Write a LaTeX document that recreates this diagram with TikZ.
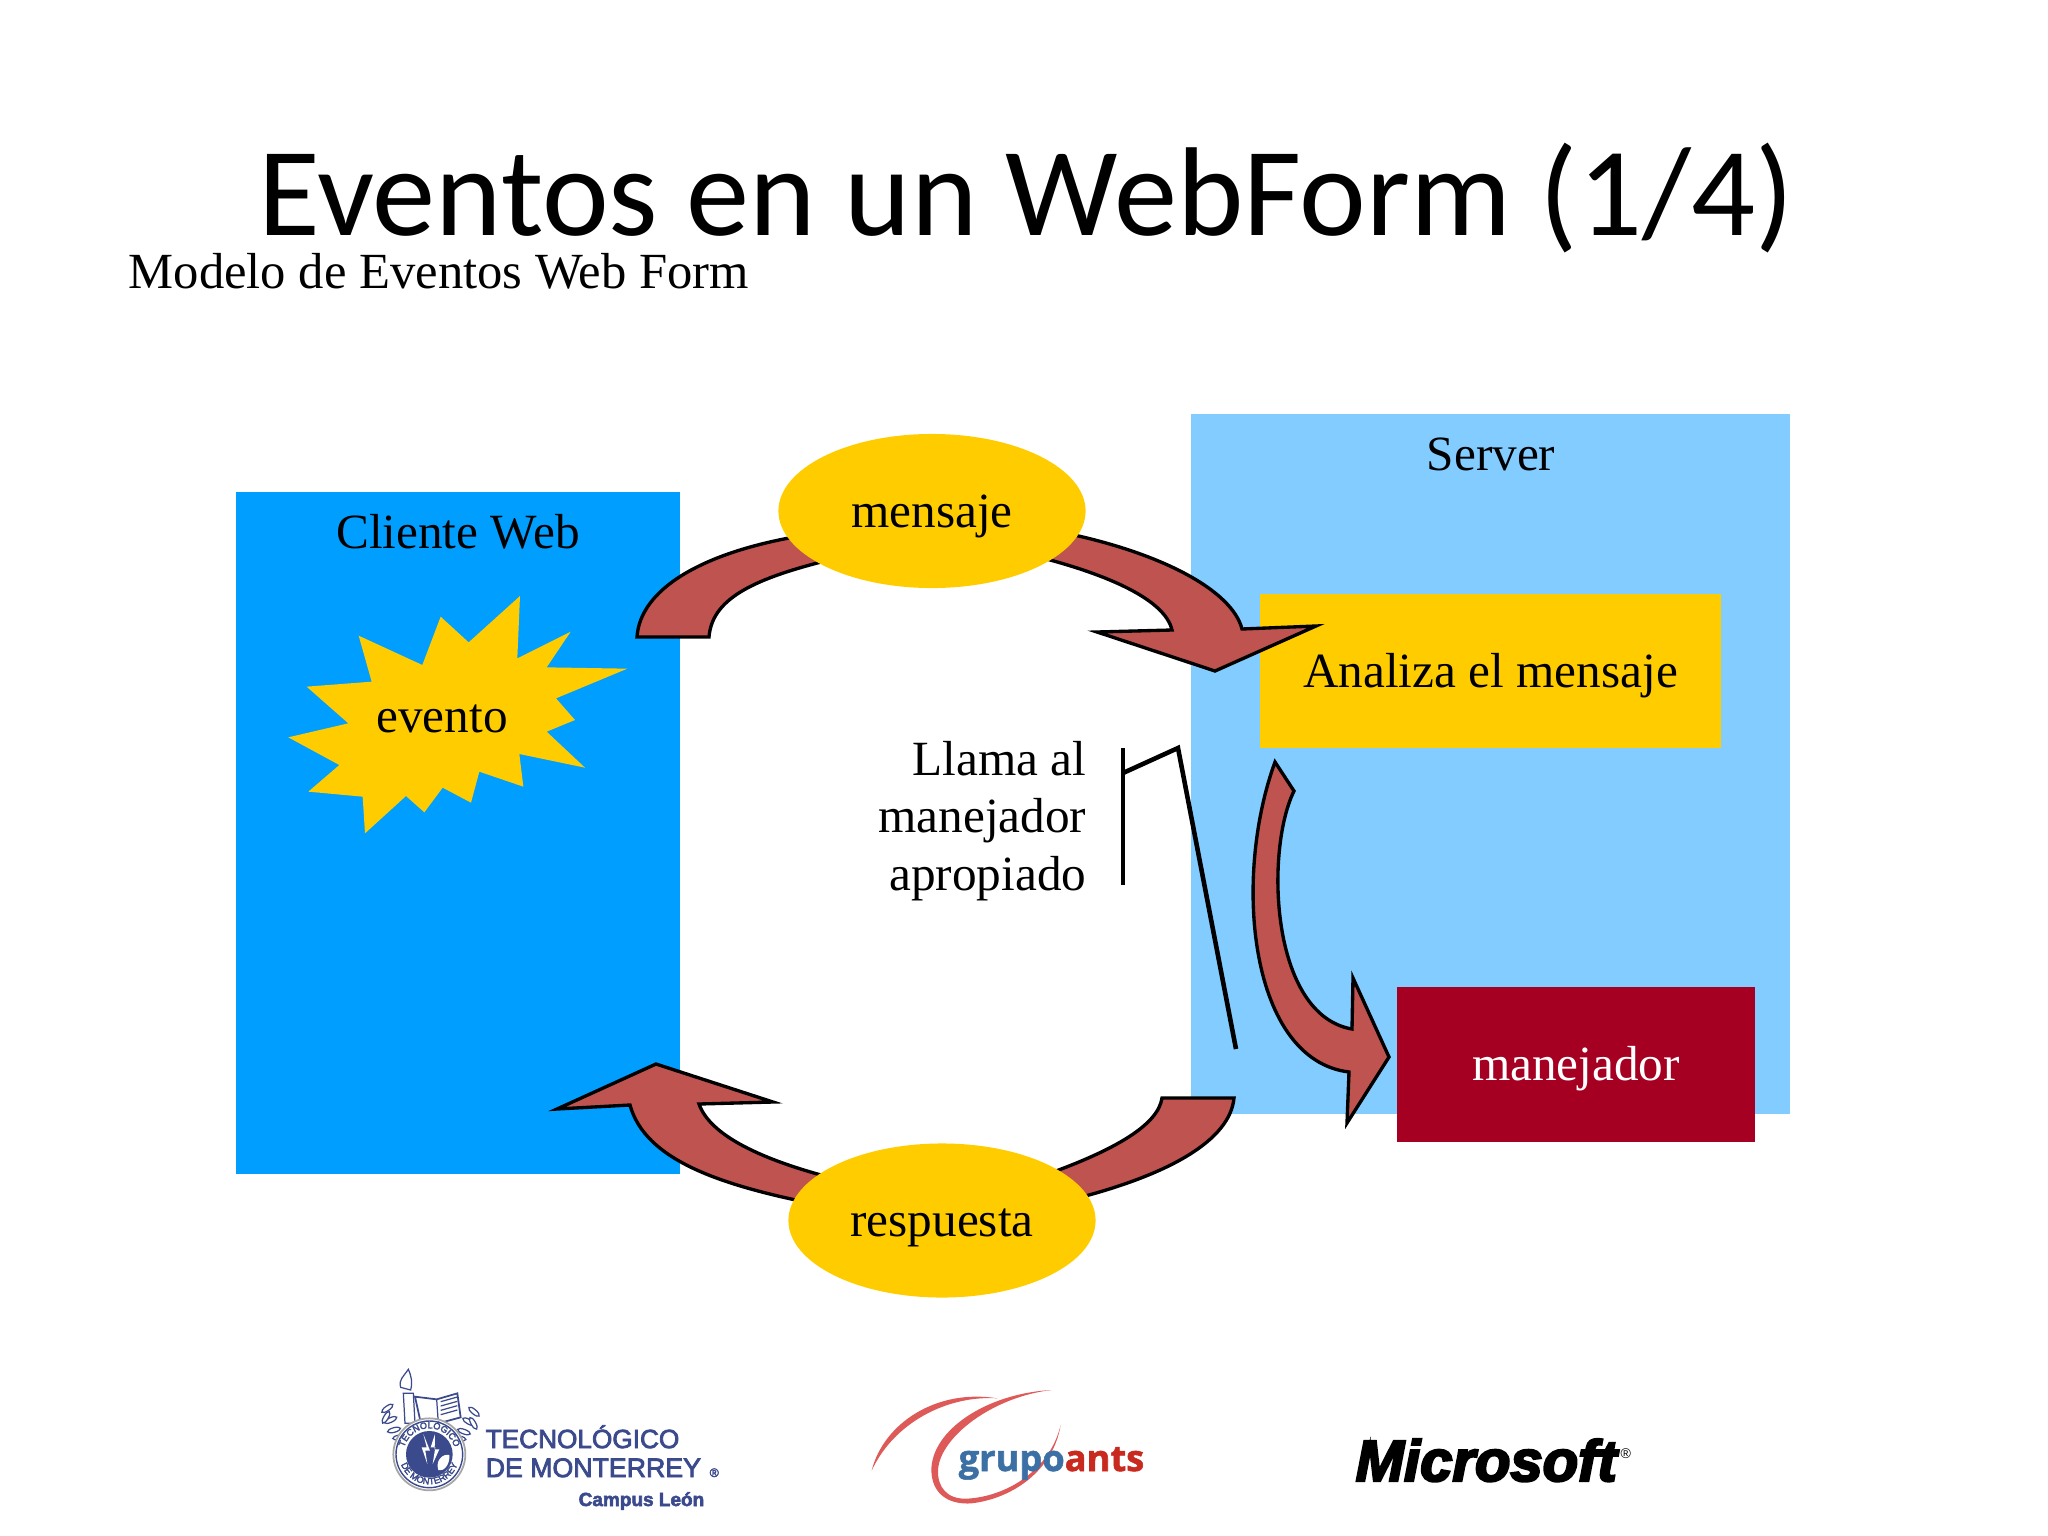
\documentclass[tikz,border=0pt]{standalone}
\usepackage{fontspec}
\setmainfont{Liberation Serif}
\newfontfamily\titlefont{Carlito}
\newfontfamily\tecfont[FakeBold=3]{Liberation Sans}
\newfontfamily\antsfont[BoldFeatures={FakeBold=1.5}]{Open Sans}
\newfontfamily\msfont[BoldItalicFeatures={FakeBold=4}]{Liberation Sans}
\usetikzlibrary{shapes.geometric,decorations.text}
\definecolor{azulcliente}{HTML}{009EFF}
\definecolor{azulserver}{HTML}{82CCFF}
\definecolor{amarillo}{HTML}{FFCC00}
\definecolor{guinda}{HTML}{A50021}
\definecolor{flecha}{HTML}{BF5350}
\definecolor{azultec}{HTML}{3B4A8C}
\definecolor{azulants}{HTML}{3C70A4}
\definecolor{rojoants}{HTML}{C92A20}
\definecolor{rojoarco}{HTML}{DD5A58}
\tikzset{
  caja/.style={rectangle,inner sep=0pt,minimum width=#1},
  ovalo/.style={ellipse,fill=amarillo,inner sep=0pt,minimum width=3.07cm,minimum height=1.54cm},
  cuerpo/.style={font=\fontsize{14}{16.4}\selectfont},
  linea/.style={cuerpo,text height=0.4cm,text depth=0.08cm},
  bloque/.style={draw=black,line width=0.95pt,fill=flecha,line join=miter},
  trazo/.style={draw=black,line width=1.3pt},
  sello/.style={draw=azultec,line width=0.35pt}
}
\begin{document}
\begin{tikzpicture}[x=0.01cm,y=-0.01cm]
    \useasboundingbox (0,0) rectangle (2048,1536);

    \node[caja=4.43cm,minimum height=6.82cm,fill=azulcliente] (cliente) at (458,833) {};
    \node[caja=5.98cm,minimum height=7cm,fill=azulserver] (server) at (1490.5,764) {};
    \node[caja=4.61cm,minimum height=1.53cm,fill=amarillo,linea] (analiza) at (1490.5,671) {Analiza el mensaje};
    \node[caja=3.58cm,minimum height=1.54cm,fill=guinda,text=white,linea] (manejador) at (1576,1064.5) {manejador};

    \node[linea] (clienteWeb) at (458,532) {Cliente Web};
    \node[linea] (serverTxt) at (1491,454) {Server};

    \begin{scope}[shift={(270,580)},scale=1/3]
        \fill[amarillo] (750,48)
          \foreach \x/\y in {742/235,902/155,830/262,1072/266,858/355,915/420,830/455,945/563,
                             748/522,760/620,628/575,603/668,518/623,463/697,408/648,285/760,
                             278/650,115/635,208/555,55/472,235/430,110/320,305/305,266/167,
                             457/255,512/110,596/187} {-- (\x,\y)} -- cycle;
    \end{scope}
    \node[linea] (evento) at (442,716) {evento};

    \node[font=\titlefont\fontsize{35.95}{40}\selectfont,anchor=base,inner sep=0pt] (titulo) at (1026,235) {Eventos en un WebForm (1/4)};
    \node[font=\fontsize{14.4}{16}\selectfont,anchor=base west,inner sep=0pt] (modelo) at (128,288) {Modelo de Eventos Web Form};

    \path[bloque] (637,637) .. controls (640,590) and (700,553) .. (800,536) -- (835,555) -- (825,561)
        .. controls (750,580) and (712,600) .. (709,637) -- cycle;
    \path[bloque] (1060,532) .. controls (1160,552) and (1232,590) .. (1242,629) -- (1316,626) -- (1215,671)
        -- (1097,632) -- (1172,630) .. controls (1165,600) and (1110,575) .. (1035,556) -- cycle;
    \path[bloque] (1275,762) -- (1294,791) .. controls (1265,850) and (1270,1015) .. (1352,1029)
        -- (1353,978) -- (1389,1057) -- (1347,1123) -- (1349,1072)
        .. controls (1250,1060) and (1232,880) .. (1275,762) -- cycle;
    \path[bloque] (1234,1098) .. controls (1230,1140) and (1170,1175) .. (1070,1200) -- (1045,1175)
        .. controls (1115,1150) and (1158,1125) .. (1162,1098) -- cycle;
    \path[bloque] (656,1064) -- (773,1102) -- (699,1104) .. controls (710,1135) and (760,1160) .. (840,1180)
        -- (815,1204) .. controls (720,1185) and (645,1160) .. (630,1105) -- (557,1109) -- cycle;

    \node[ovalo,linea] (mensaje) at (932,511) {mensaje};
    \node[ovalo,linea] (respuesta) at (942,1220.5) {respuesta};

    \node[cuerpo,align=right,anchor=east,inner sep=0pt] (llama) at (1087,821) {Llama al\\manejador\\apropiado};
    \draw[trazo] (1123,885) -- (1123,748);
    \draw[trazo] (1123,773) -- (1178,748) -- (1236,1049);

    \begin{scope}[shift={(370,1360)},scale=1/3]
        \foreach \x/\y/\a in {52/145/35,62/180/25,72/210/15,48/172/60,88/232/10,
                              312/155/-40,296/185/-30,282/215/-20,310/190/-60,268/235/-10}
            {\draw[sello,fill=white] (\x,\y) ellipse [x radius=20,y radius=7,rotate=\a];}
        \draw[sello,line width=0.5pt,fill=white] (135,110) -- (200,118) -- (262,100) -- (272,172) -- (205,190) -- (150,178) -- cycle;
        \draw[sello] (200,118) -- (205,190);
        \foreach \y in {125,138,151,164}
            {\draw[sello] (212,\y) -- (262,\y-14);}
        \draw[sello,fill=white] (100,100) -- (130,100) -- (135,190) -- (105,190) -- cycle;
        \draw[sello,fill=white] (92,82) .. controls (85,60) and (100,50) .. (115,28) .. controls (125,50) and (128,70) .. (122,90) -- cycle;
        \filldraw[draw=gray!70,line width=0.5pt,fill=white] (178,283) circle (108);
        \draw[azultec,line width=0.4pt] (178,283) circle (100);
        \fill[azultec] (178,283) circle (70);
        \fill[white] (160,222) -- (170,262) -- (155,262) -- (172,312) -- (166,272) -- (180,272) -- cycle;
        \fill[white] (195,222) -- (182,262) -- (196,262) -- (188,312) -- (208,268) -- (194,268) -- cycle;
        \fill[white] (205,330) .. controls (195,300) and (220,280) .. (238,285) .. controls (240,310) and (225,335) .. (205,330) -- cycle;
        \path[postaction={decorate,decoration={text along path,text align=center,
            text color=azultec,text={|\tecfont\fontsize{2.6}{3}\selectfont|TECNOLÓGICO}}}]
            (100,283) arc [start angle=180,end angle=360,radius=78];
        \path[postaction={decorate,decoration={text along path,text align=center,
            text color=azultec,text={|\tecfont\fontsize{2.6}{3}\selectfont|DE MONTERREY}}}]
            (88,283) arc [start angle=180,end angle=0,radius=90];
    \end{scope}
    \node[font=\tecfont\fontsize{7.45}{9}\selectfont,text=azultec,anchor=base west,inner sep=0pt] (tec) at (485,1448) {TECNOLÓGICO};
    \node[font=\tecfont\fontsize{7.6}{9}\selectfont,text=azultec,anchor=base west,inner sep=0pt] (monterrey) at (485,1477) {DE MONTERREY};
    \node[font=\tecfont\fontsize{3.5}{4}\selectfont,text=azultec,anchor=base west,inner sep=0pt] (tecR) at (709,1477) {®};
    \node[font=\tecfont\bfseries\fontsize{5.4}{7}\selectfont,text=azultec,anchor=base west,inner sep=0pt] (campus) at (578,1506) {Campus León};

    \begin{scope}[shift={(860,1380)},scale=1/3]
        \fill[rojoarco] (35,272) .. controls (70,130) and (230,25) .. (412,55)
            .. controls (260,45) and (100,130) .. (35,272) -- cycle;
        \fill[rojoarco] (575,30) .. controls (380,40) and (215,150) .. (214,270)
            .. controls (215,345) and (270,375) .. (335,370)
            .. controls (460,355) and (580,270) .. (602,135)
            .. controls (570,270) and (440,350) .. (320,356)
            .. controls (260,358) and (232,320) .. (234,270)
            .. controls (240,170) and (400,50) .. (575,30) -- cycle;
    \end{scope}
    \node[font=\antsfont\bfseries\fontsize{10.3}{12}\selectfont,anchor=base west,inner sep=0pt] (ants) at (958,1471)
        {\textcolor{azulants}{grupo}\textcolor{rojoants}{ants}};

    \node[font=\msfont\bfseries\itshape\fontsize{16.5}{18}\selectfont,anchor=base west,inner sep=0pt] (microsoft) at (1355,1481) {Microsoft};
    \node[font=\msfont\fontsize{4}{5}\selectfont,anchor=base west,inner sep=0pt] (msR) at (1620,1458) {®};
\end{tikzpicture}
\end{document}
